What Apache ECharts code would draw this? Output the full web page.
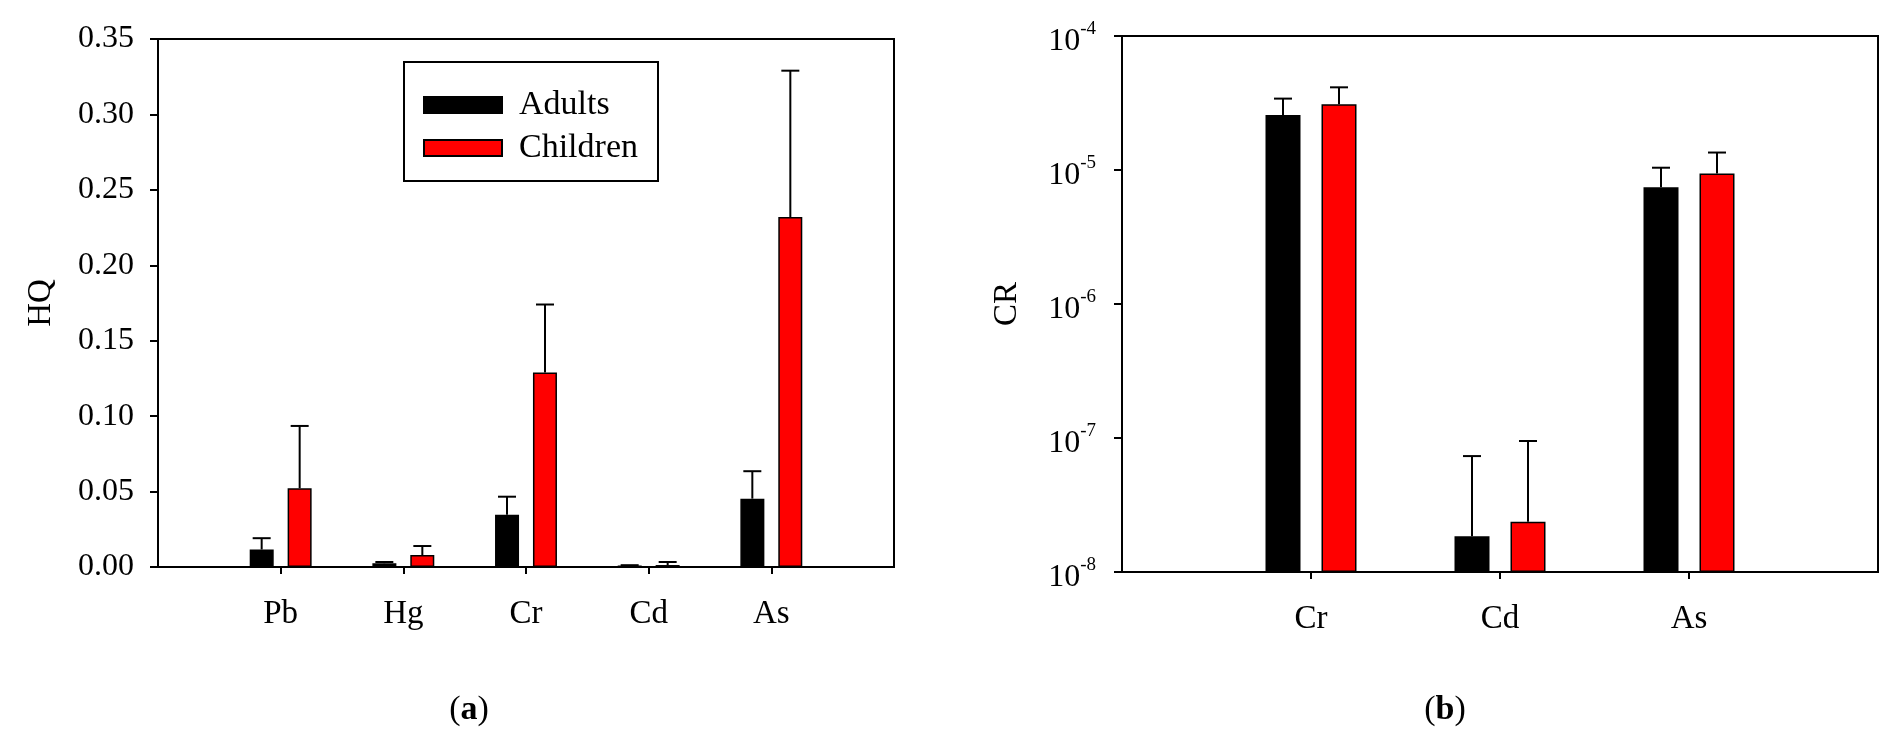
<!DOCTYPE html>
<html>
<head>
<meta charset="utf-8">
<script src="https://cdn.jsdelivr.net/npm/echarts@6/dist/echarts.min.js"></script>
<style>
html, body { margin: 0; padding: 0; background: #fff; }
#main { width: 1890px; height: 740px; }
</style>
</head>
<body>
<div id="main"></div>
<script>
// (a) 非致癌风险 HQ
var hqElements = ['Pb', 'Hg', 'Cr', 'Cd', 'As'];
var hqAdults = [0.0116, 0.0025, 0.0347, 0.0010, 0.0453];
var hqAdultsUpper = [0.0191, 0.0033, 0.0466, 0.0012, 0.0635];
var hqChildren = [0.0522, 0.0079, 0.1290, 0.0013, 0.2320];
var hqChildrenUpper = [0.0935, 0.0139, 0.1740, 0.0033, 0.3290];
var hqTicks = [0, 0.35, 0.05];

// (b) 致癌风险 CR
var crElements = ['Cr', 'Cd', 'As'];
var crAdults = [2.57e-5, 1.85e-8, 7.43e-6];
var crAdultsUpper = [3.41e-5, 7.33e-8, 1.04e-5];
var crChildren = [3.10e-5, 2.37e-8, 9.4e-6];
var crChildrenUpper = [4.14e-5, 9.5e-8, 1.35e-5];
var crTicks = [1e-8, 1e-4];

var FONT = '"Liberation Serif", "DejaVu Serif", serif';

// 两端补一个空类目, 让柱子离开坐标框
function pad(arr, empty) {
    return [empty].concat(arr, [empty]);
}
function errData(means, uppers) {
    return means.map(function (m, i) { return [i + 1, m, uppers[i]]; });
}
function errorBar(offset) {
    return function (params, api) {
        var p0 = api.coord([api.value(0), api.value(1)]);
        var p1 = api.coord([api.value(0), api.value(2)]);
        var x = p0[0] + offset;
        var lineStyle = { stroke: '#000', lineWidth: 2 };
        return {
            type: 'group',
            children: [
                { type: 'line', shape: { x1: x, y1: p0[1], x2: x, y2: p1[1] }, style: lineStyle },
                { type: 'line', shape: { x1: x - 9, y1: p1[1], x2: x + 9, y2: p1[1] }, style: lineStyle }
            ]
        };
    };
}

var barStyleBlack = { color: '#000', borderColor: '#000', borderWidth: 1.5 };
var barStyleRed = { color: '#ff0000', borderColor: '#000', borderWidth: 1.5 };

var catAxisCommon = {
    type: 'category',
    boundaryGap: false,
    axisLine: { lineStyle: { color: '#000', width: 2 } },
    axisTick: {
        length: 7,
        lineStyle: { color: '#000', width: 2 },
        interval: function (i, v) { return v !== ''; }
    },
    axisLabel: { fontFamily: FONT, fontSize: 33, color: '#000', margin: 31, interval: 0 },
    splitLine: { show: false }
};

var captionRich = {
    p: { fontFamily: FONT, fontSize: 34, color: '#000' },
    b: { fontFamily: FONT, fontSize: 34, color: '#000', fontWeight: 'bold' }
};

var option = {
    animation: false,
    backgroundColor: '#fff',
    grid: [
        { left: 158, right: 996, top: 39, bottom: 173, show: true, borderColor: '#000', borderWidth: 2 },
        { left: 1122, right: 12, top: 36, bottom: 168, show: true, borderColor: '#000', borderWidth: 2 }
    ],
    legend: {
        left: 418,
        top: 82,
        orient: 'vertical',
        itemWidth: 78,
        itemHeight: 16,
        itemGap: 7,
        icon: 'rect',
        data: ['Adults', 'Children'],
        textStyle: { fontFamily: FONT, fontSize: 34, color: '#000', lineHeight: 36, padding: [0, 0, 0, 12] }
    },
    xAxis: [
        Object.assign({}, catAxisCommon, { gridIndex: 0, data: pad(hqElements, '') }),
        Object.assign({}, catAxisCommon, { gridIndex: 1, data: pad(crElements, '') })
    ],
    yAxis: [
        {
            gridIndex: 0,
            type: 'value',
            min: hqTicks[0],
            max: hqTicks[1],
            interval: hqTicks[2],
            name: 'HQ',
            nameLocation: 'middle',
            nameGap: 100,
            nameTextStyle: { fontFamily: FONT, fontSize: 33, color: '#000' },
            axisLine: { show: true, lineStyle: { color: '#000', width: 2 } },
            axisTick: { show: true, length: 8, lineStyle: { color: '#000', width: 2 } },
            axisLabel: {
                fontFamily: FONT, fontSize: 32, color: '#000', margin: 24,
                formatter: function (v) { return v.toFixed(2); }
            },
            splitLine: { show: false }
        },
        {
            gridIndex: 1,
            type: 'log',
            logBase: 10,
            min: crTicks[0],
            max: crTicks[1],
            startValue: crTicks[0],
            name: 'CR',
            nameLocation: 'middle',
            nameGap: 98,
            nameTextStyle: { fontFamily: FONT, fontSize: 33, color: '#000' },
            axisLine: { show: true, lineStyle: { color: '#000', width: 2 } },
            axisTick: { show: true, length: 8, lineStyle: { color: '#000', width: 2 } },
            minorTick: { show: false },
            axisLabel: {
                margin: 26,
                formatter: function (v) {
                    return '{n|10}{s|' + Math.round(Math.log10(v)) + '}';
                },
                rich: {
                    n: { fontFamily: FONT, fontSize: 32, color: '#000', lineHeight: 32, verticalAlign: 'top', padding: [6, 0, 0, 0] },
                    s: { fontFamily: FONT, fontSize: 19, color: '#000', lineHeight: 19, verticalAlign: 'top' }
                }
            },
            splitLine: { show: false }
        }
    ],
    graphic: [
        {
            type: 'rect',
            shape: { x: 404, y: 62, width: 254, height: 119 },
            style: { fill: 'none', stroke: '#000', lineWidth: 2 },
            z: 10
        },
        {
            type: 'text', x: 469, y: 710,
            style: { text: '{p|(}{b|a}{p|)}', align: 'center', verticalAlign: 'middle', rich: captionRich }
        },
        {
            type: 'text', x: 1445, y: 710,
            style: { text: '{p|(}{b|b}{p|)}', align: 'center', verticalAlign: 'middle', rich: captionRich }
        }
    ],
    series: [
        {
            name: 'Adults', type: 'bar', xAxisIndex: 0, yAxisIndex: 0,
            barWidth: 24, barGap: '58%', itemStyle: barStyleBlack,
            data: pad(hqAdults, '-')
        },
        {
            name: 'Children', type: 'bar', xAxisIndex: 0, yAxisIndex: 0,
            barWidth: 24, barGap: '58%', itemStyle: barStyleRed,
            data: pad(hqChildren, '-')
        },
        {
            type: 'custom', xAxisIndex: 0, yAxisIndex: 0, z: 1,
            renderItem: errorBar(-19), encode: { x: 0, y: [1, 2] },
            data: errData(hqAdults, hqAdultsUpper)
        },
        {
            type: 'custom', xAxisIndex: 0, yAxisIndex: 0, z: 1,
            renderItem: errorBar(19), encode: { x: 0, y: [1, 2] },
            data: errData(hqChildren, hqChildrenUpper)
        },
        {
            name: 'Adults', type: 'bar', xAxisIndex: 1, yAxisIndex: 1,
            barWidth: 35, barGap: '60%', itemStyle: barStyleBlack,
            data: pad(crAdults, '-')
        },
        {
            name: 'Children', type: 'bar', xAxisIndex: 1, yAxisIndex: 1,
            barWidth: 35, barGap: '60%', itemStyle: barStyleRed,
            data: pad(crChildren, '-')
        },
        {
            type: 'custom', xAxisIndex: 1, yAxisIndex: 1, z: 1,
            renderItem: errorBar(-28), encode: { x: 0, y: [1, 2] },
            data: errData(crAdults, crAdultsUpper)
        },
        {
            type: 'custom', xAxisIndex: 1, yAxisIndex: 1, z: 1,
            renderItem: errorBar(28), encode: { x: 0, y: [1, 2] },
            data: errData(crChildren, crChildrenUpper)
        }
    ]
};

var myChart = echarts.init(document.getElementById('main'));
myChart.setOption(option);
</script>
</body>
</html>
